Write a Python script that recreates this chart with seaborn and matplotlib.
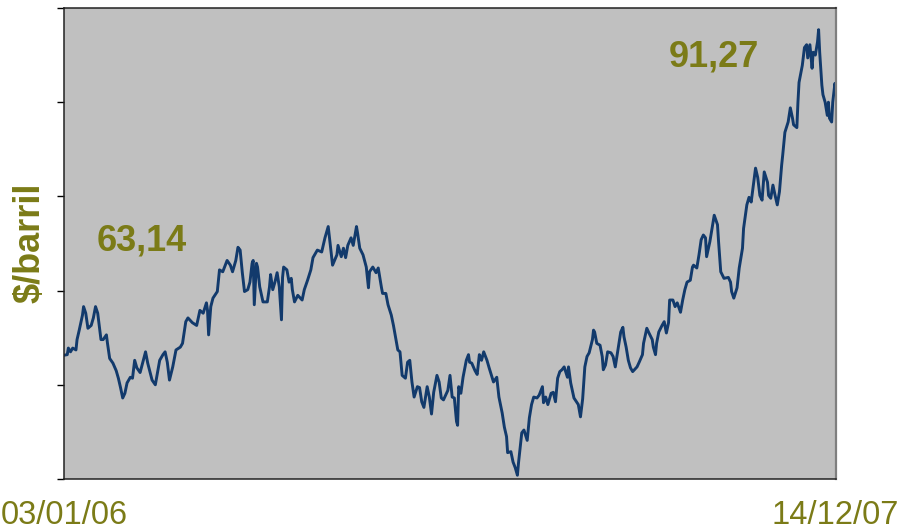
import numpy as np
import pandas as pd
import matplotlib
matplotlib.use("Agg")
import matplotlib.pyplot as plt
import seaborn as sns

# ---------------- data ----------------
start_date = "2006-01-03"
start_label = "03/01/06"
end_label = "14/12/07"
y_label = "\\$/barril"
first_price_label = "63,14"
last_price_label = "91,27"
ytick_values = [50, 60, 70, 80, 90, 100]

day_offset = [
    0, 3, 4, 6, 8, 11, 12, 14, 17, 18,
    20, 22, 25, 27, 29, 31, 34, 36, 39, 40,
    42, 45, 48, 50, 52, 54, 56, 58, 61, 63,
    65, 67, 70, 73, 75, 77, 81, 84, 86, 88,
    91, 93, 95, 97, 100, 103, 107, 109, 112, 114,
    118, 122, 125, 128, 131, 132, 133, 135, 137, 141,
    143, 146, 150, 153, 155, 158, 160, 162, 164, 166,
    169, 171, 173, 174, 175, 177, 178, 180, 183, 187,
    189, 190, 192, 194, 196, 198, 200, 201, 202, 205,
    207, 209, 210, 212, 215, 219, 221, 224, 227, 229,
    233, 237, 240, 243, 245, 247, 251, 252, 255, 257,
    259, 261, 264, 266, 269, 270, 272, 275, 278, 280,
    281, 284, 287, 289, 292, 293, 296, 298, 301, 303,
    305, 307, 309, 311, 314, 316, 318, 320, 322, 325,
    327, 329, 331, 334, 336, 338, 340, 343, 345, 347,
    349, 353, 355, 357, 359, 361, 362, 363, 365, 367,
    370, 372, 373, 375, 378, 380, 382, 384, 386, 389,
    391, 394, 395, 398, 400, 403, 405, 407, 408, 411,
    413, 415, 417, 418, 419, 421, 423, 426, 428, 430,
    432, 435, 437, 440, 441, 443, 445, 448, 450, 452,
    454, 456, 458, 460, 463, 464, 466, 469, 473, 475,
    477, 479, 481, 483, 486, 487, 488, 490, 493, 495,
    496, 498, 500, 503, 505, 507, 509, 510, 512, 514,
    515, 517, 519, 521, 523, 527, 529, 532, 533, 536,
    538, 541, 542, 544, 545, 547, 550, 552, 554, 556,
    557, 560, 562, 564, 567, 569, 571, 573, 576, 578,
    579, 582, 584, 586, 588, 590, 591, 594, 596, 598,
    601, 602, 604, 607, 611, 613, 614, 616, 619, 621,
    624, 625, 628, 630, 632, 634, 636, 638, 640, 642,
    644, 647, 648, 650, 652, 654, 656, 658, 660, 661,
    663, 666, 668, 670, 671, 674, 675, 676, 679, 681,
    683, 684, 686, 688, 689, 691, 693, 694, 695, 697,
    698, 700, 702, 703, 704, 706, 707, 709, 710,
]

price = [
    63.14, 63.2, 63.9, 63.5, 63.9, 63.7, 64.8, 65.8, 67.4, 68.3,
    67.6, 66.0, 66.3, 67.1, 68.3, 67.6, 64.8, 64.8, 65.3, 64.4,
    62.8, 62.3, 61.5, 60.7, 59.7, 58.6, 59.1, 60.2, 60.8, 60.7,
    62.6, 61.8, 61.3, 62.6, 63.5, 62.3, 60.5, 60.0, 61.3, 62.6,
    63.2, 63.5, 62.4, 60.5, 61.9, 63.7, 64.0, 64.4, 66.7, 67.1,
    66.6, 66.3, 67.9, 67.6, 68.7, 67.9, 65.3, 68.3, 69.2, 69.9,
    72.2, 72.0, 73.2, 72.7, 72.0, 73.2, 74.6, 74.3, 71.9, 69.9,
    70.1, 70.9, 72.9, 73.2, 68.5, 72.9, 72.5, 70.4, 68.8, 68.8,
    70.4, 71.7, 70.1, 70.9, 71.9, 70.4, 66.9, 71.4, 72.5, 72.2,
    70.9, 71.3, 70.1, 68.8, 69.5, 69.0, 70.1, 71.1, 72.2, 73.5,
    74.3, 74.1, 75.6, 76.8, 74.8, 72.7, 73.8, 74.8, 73.6, 74.5,
    73.5, 74.8, 75.6, 74.8, 76.8, 76.1, 74.5, 73.8, 72.5, 70.3,
    72.0, 72.5, 71.9, 72.4, 70.3, 69.7, 69.7, 68.5, 67.4, 66.3,
    65.0, 63.7, 63.5, 61.0, 60.7, 62.4, 62.6, 60.3, 58.7, 59.8,
    59.7, 58.2, 57.6, 59.8, 58.7, 56.9, 59.2, 61.0, 60.3, 58.6,
    58.4, 59.4, 61.0, 58.7, 58.6, 56.1, 55.7, 59.8, 59.1, 60.8,
    62.6, 63.2, 62.4, 62.3, 61.5, 61.1, 63.2, 62.6, 63.5, 62.6,
    61.8, 60.7, 60.3, 60.8, 58.7, 57.0, 55.5, 54.5, 52.8, 52.9,
    51.8, 51.2, 50.4, 51.7, 52.8, 54.9, 55.2, 54.1, 56.5, 57.9,
    58.7, 58.6, 58.9, 59.8, 58.1, 58.7, 57.9, 59.1, 59.2, 58.2,
    60.7, 61.4, 61.6, 61.9, 60.8, 61.9, 60.2, 58.6, 57.9, 56.6,
    58.5, 61.9, 63.0, 63.4, 64.8, 65.8, 65.6, 64.4, 64.2, 63.0,
    61.6, 62.1, 63.5, 63.4, 63.0, 61.9, 63.4, 64.2, 65.6, 66.1,
    65.1, 64.0, 62.6, 61.8, 61.4, 61.9, 62.4, 63.2, 64.4, 66.0,
    65.5, 64.8, 64.0, 63.2, 64.4, 65.6, 66.3, 66.7, 65.5, 66.6,
    69.0, 69.0, 68.3, 68.7, 67.7, 69.0, 70.1, 70.9, 71.1, 72.5,
    72.7, 72.4, 73.8, 75.4, 75.9, 75.6, 73.6, 75.2, 76.6, 78.0,
    77.0, 75.2, 72.0, 71.3, 71.4, 70.9, 69.9, 69.2, 70.3, 72.4,
    74.5, 76.6, 79.1, 79.9, 79.4, 81.2, 83.0, 82.0, 80.1, 79.6,
    82.6, 81.5, 80.1, 79.8, 81.2, 80.1, 79.1, 80.5, 83.3, 84.4,
    86.8, 87.9, 89.4, 88.3, 87.6, 87.3, 90.0, 92.1, 93.9, 95.8,
    96.1, 94.7, 96.1, 93.6, 95.3, 95.0, 96.4, 97.7, 95.3, 91.8,
    90.8, 90.0, 88.6, 90.0, 88.3, 87.9, 90.0, 92.0, 91.27,
]

dates = pd.Timestamp(start_date) + pd.to_timedelta(day_offset, unit="D")
df = pd.DataFrame({"date": dates, "price": price})

# ---------------- style ----------------
sns.set_style("ticks")
plt.rcParams["font.family"] = ["Liberation Sans", "DejaVu Sans"]

olive = "#7b7b17"
line_color = "#123a6c"

W, H = 902, 531
fig = plt.figure(figsize=(W / 100, H / 100), dpi=100)
fig.patch.set_facecolor("white")
ax = fig.add_axes([64 / W, 1 - 479 / H, (836 - 64) / W, (479 - 8) / H])

sns.lineplot(data=df, x="date", y="price", ax=ax, color=line_color,
             linewidth=2.1, estimator=None, sort=False)

ax.set_facecolor("#c0c0c0")
ax.set_xlim(dates[0], dates[-1])
ax.set_ylim(ytick_values[0], ytick_values[-1])
ax.set_yticks(ytick_values)
ax.set_yticklabels([])
ax.set_xticks([])
ax.set_xlabel("")
ax.set_ylabel("")
ax.tick_params(axis="y", direction="out", length=5, width=1.0, color="black")

for side in ["left", "bottom", "top"]:
    ax.spines[side].set_color("#222222")
    ax.spines[side].set_linewidth(1.1)
ax.spines["right"].set_color("#7f7f7f")
ax.spines["right"].set_linewidth(1.6)
ax.spines["right"].set_visible(True)
ax.spines["top"].set_visible(True)

# ---------------- texts ----------------
fig.text(97 / W, 1 - 250 / H, first_price_label, fontsize=26, fontweight="bold",
         color=olive, ha="left", va="baseline")
fig.text(669 / W, 1 - 66 / H, last_price_label, fontsize=26, fontweight="bold",
         color=olive, ha="left", va="baseline")
fig.text(30 / W, 1 - 243 / H, y_label, fontsize=26, fontweight="bold",
         color=olive, rotation=90, ha="center", va="center")
fig.text(1 / W, 1 - 524 / H, start_label, fontsize=23.5, color=olive,
         ha="left", va="baseline")
fig.text(899 / W, 1 - 524 / H, end_label, fontsize=23.5, color=olive,
         ha="right", va="baseline")

fig.savefig("out.png", dpi=100)
